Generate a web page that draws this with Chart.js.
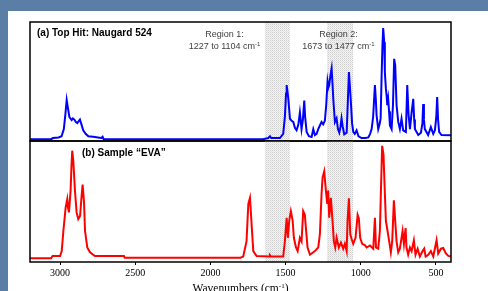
<!DOCTYPE html>
<html>
<head>
<meta charset="utf-8">
<script src="https://cdn.jsdelivr.net/npm/chart.js@4.4.1/dist/chart.umd.min.js"></script>
<style>
  html, body { margin: 0; padding: 0; overflow: hidden; }
  body { width: 488px; height: 291px; background: #5b7ea7; position: relative; }
  #sheet { position: absolute; left: 8px; top: 11px; right: 0; bottom: 0; background: #fff; }
  canvas { position: absolute; left: 0; top: 0; }
</style>
</head>
<body>
<div id="sheet"></div>
<canvas id="topChart" width="488" height="291"></canvas>
<canvas id="bottomChart" width="488" height="291"></canvas>
<script>
// (a) library hit, Naugard 524
const hitWavenumbers = [3200, 3060, 3047, 3010, 2990, 2975, 2965, 2956, 2948, 2938, 2923, 2915, 2905, 2895, 2885, 2875, 2868, 2858, 2846, 2830, 2812, 2780, 2748, 2725, 2717, 2710, 2600,
  1650, 1615, 1604, 1595, 1538, 1516, 1505, 1497, 1493, 1488, 1482, 1471, 1460, 1449, 1438, 1427, 1415, 1405, 1400, 1394, 1385, 1376, 1370, 1360, 1345, 1327, 1316, 1305, 1294, 1283, 1272, 1261, 1250, 1239, 1230, 1221, 1215, 1210, 1202, 1194, 1188, 1183, 1172, 1161, 1152, 1143, 1135, 1128, 1120, 1110, 1094, 1087, 1079, 1072, 1066, 1058, 1050, 1040, 1028, 1015, 995, 970, 950, 938, 928, 918, 906, 900, 895, 884, 875, 868, 862, 856, 851, 844, 840, 833, 828, 824, 818, 812, 806, 795, 786, 778, 771, 762, 751, 740, 729, 718, 700, 691, 682, 673, 662, 651, 645, 640, 618, 600, 590, 585, 580, 574, 552, 534, 518, 507, 498, 492, 486, 479, 463, 400];
const hitAbsorbance = [1.5, 1.5, 2.5, 3, 4, 10, 22, 34.5, 28, 20, 17.6, 19, 18, 16, 15, 17, 18, 14, 9, 6, 4, 3.5, 3, 2.5, 3.5, 1.5, 1.5,
  1.5, 2.5, 4, 2.5, 2.5, 6, 20, 40, 47, 42, 35.5, 18.7, 17, 16, 11, 9, 14, 24, 18, 10, 18, 34, 20, 7.6, 4, 3.4, 10, 5, 6, 10, 13, 16, 14, 17, 30, 50, 45, 47, 55, 61, 48, 35.5, 16, 19, 10, 7, 12, 19, 12, 5.6, 7, 30, 58, 45, 33, 15, 7.6, 6, 9, 4, 2.5, 2.5, 3, 6, 10, 20, 47, 35, 21.6, 10, 14, 19, 52, 80, 95, 83, 58, 44, 38, 30, 35.5, 25, 13, 10, 30, 69, 63.6, 30, 16, 10, 18.7, 9, 7.6, 47, 21.6, 10, 24, 35.5, 18, 10, 5, 7, 15, 31, 18, 10, 5, 11.7, 6, 9, 20, 37, 18, 7.6, 5, 4.8];

// (b) sample "EVA"
const sampleWavenumbers = [3200, 3060, 3050, 3000, 2989, 2978, 2963, 2952, 2947, 2941, 2930, 2924, 2919, 2912, 2901, 2890, 2879, 2867, 2856, 2850, 2841, 2834, 2819, 2801, 2768, 2575, 2570, 1800, 1782, 1760, 1748, 1737, 1726, 1715, 1693, 1610, 1604, 1598, 1516, 1505, 1493, 1485, 1476, 1465, 1453, 1445, 1431, 1420, 1405, 1394, 1383, 1372, 1365, 1354, 1338, 1305, 1283, 1272, 1261, 1254, 1243, 1232, 1223, 1217, 1210, 1199, 1188, 1179, 1170, 1161, 1146, 1132, 1117, 1106, 1094, 1088, 1079, 1070, 1061, 1050, 1035, 1021, 1013, 1004, 991, 973, 961, 939, 917, 906, 899, 884, 873, 866, 858, 849, 842, 833, 822, 811, 800, 791, 780, 771, 762, 751, 740, 729, 722, 713, 702, 696, 685, 673, 662, 647, 636, 622, 607, 589, 578, 569, 551, 534, 518, 496, 485, 467, 452, 434, 418, 400];
const sampleAbsorbance = [3, 3, 5, 5, 9, 25.6, 45, 52, 45, 41, 59, 80, 92, 83.5, 59, 41, 35.5, 38, 56, 64, 50, 25.6, 12, 8, 5, 5, 3.5, 3.5, 4.5, 17, 48, 53, 31, 9, 5, 4.5, 5.5, 4.5, 4.5, 17, 36.6, 20, 34, 42, 34, 20, 12, 9, 20, 17, 42, 39, 28, 12, 6, 9, 12, 23, 56, 70, 75, 59, 48, 59, 36.6, 53, 34, 17, 12, 20, 12, 16, 11, 15, 9, 34, 52.6, 23, 19, 15, 20, 39, 36, 20, 15, 14, 12, 13.7, 11, 36.6, 12, 11, 25.6, 59, 96, 89, 64, 34, 25.6, 17, 8, 17, 51, 34, 17, 8, 11, 20, 25.6, 15, 28, 12, 6, 12, 9, 18, 6, 11, 4.5, 9, 11, 4.5, 6, 9, 4.5, 18, 7, 11, 11.6, 7, 5, 4.5];

// shaded comparison regions as drawn (cm-1)
const regionStarts = [1638, 1225];
const regionEnds = [1471, 1052];
const tickValues = [3000, 2500, 2000, 1500, 1000, 500];

const toPoints = (xs, ys) => xs.map((x, i) => ({ x: x, y: ys[i] }));

const hatch = (() => {
  const c = document.createElement('canvas');
  c.width = 2; c.height = 2;
  const g = c.getContext('2d');
  g.fillStyle = '#f3f3f3'; g.fillRect(0, 0, 2, 2);
  g.fillStyle = '#cfcfcf'; g.fillRect(0, 0, 1, 1);
  g.fillStyle = '#e2e2e2'; g.fillRect(1, 1, 1, 1);
  return c;
})();

const regionsPlugin = {
  id: 'regions',
  beforeDatasetsDraw(chart) {
    const { ctx, chartArea, scales } = chart;
    ctx.save();
    ctx.fillStyle = ctx.createPattern(hatch, 'repeat');
    regionStarts.forEach((s, i) => {
      const a = scales.x.getPixelForValue(s);
      const b = scales.x.getPixelForValue(regionEnds[i]);
      ctx.fillRect(a, chartArea.top, b - a, chartArea.bottom - chartArea.top);
    });
    ctx.restore();
  }
};

const framePlugin = {
  id: 'frame',
  afterDatasetsDraw(chart) {
    const { ctx, chartArea } = chart;
    ctx.save();
    ctx.strokeStyle = '#000';
    ctx.lineWidth = 1.5;
    ctx.strokeRect(chartArea.left, chartArea.top, chartArea.right - chartArea.left, chartArea.bottom - chartArea.top);
    ctx.restore();
  }
};

// text with a raised "-1"
function supText(ctx, base, sup, after, cx, y, size, family, weight) {
  const f1 = weight + ' ' + size + 'px ' + family;
  const f2 = weight + ' ' + Math.round(size * 0.65) + 'px ' + family;
  ctx.font = f1;
  const w1 = ctx.measureText(base).width;
  const w3 = ctx.measureText(after).width;
  ctx.font = f2;
  const w2 = ctx.measureText(sup).width;
  let x = cx - (w1 + w2 + w3) / 2;
  ctx.textAlign = 'left';
  ctx.font = f1; ctx.fillText(base, x, y); x += w1;
  ctx.font = f2; ctx.fillText(sup, x, y - size * 0.38); x += w2;
  ctx.font = f1; ctx.fillText(after, x, y);
}

const topTextPlugin = {
  id: 'topText',
  afterDraw(chart) {
    const { ctx } = chart;
    ctx.save();
    ctx.fillStyle = '#000';
    ctx.textBaseline = 'alphabetic';
    ctx.textAlign = 'left';
    ctx.font = 'bold 10px "Liberation Sans", Arial, sans-serif';
    ctx.fillText('(a) Top Hit: Naugard 524', 37, 36);
    ctx.fillStyle = '#404040';
    ctx.textAlign = 'center';
    ctx.font = '9px "Liberation Sans", Arial, sans-serif';
    ctx.fillText('Region 1:', 224.5, 37);
    ctx.fillText('Region 2:', 338.5, 37);
    supText(ctx, '1227 to 1104 cm', '-1', '', 224.5, 49, 9, '"Liberation Sans", Arial, sans-serif', 'normal');
    supText(ctx, '1673 to 1477 cm', '-1', '', 338.5, 49, 9, '"Liberation Sans", Arial, sans-serif', 'normal');
    ctx.restore();
  }
};

const bottomTextPlugin = {
  id: 'bottomText',
  afterDraw(chart) {
    const { ctx, chartArea } = chart;
    ctx.save();
    ctx.fillStyle = '#000';
    ctx.textBaseline = 'alphabetic';
    ctx.textAlign = 'left';
    ctx.font = 'bold 10px "Liberation Sans", Arial, sans-serif';
    ctx.fillText('(b) Sample \u201CEVA\u201D', 82, 156);
    supText(ctx, 'Wavenumbers (cm', '-1', ')', (chartArea.left + chartArea.right) / 2, 292, 11.5, '"Liberation Serif", "Times New Roman", serif', 'normal');
    ctx.restore();
  }
};

Chart.defaults.animation = false;

new Chart(document.getElementById('topChart'), {
  type: 'line',
  data: {
    datasets: [{
      data: toPoints(hitWavenumbers, hitAbsorbance),
      borderColor: '#0000ff',
      borderWidth: 2,
      pointRadius: 0,
      tension: 0,
      fill: false
    }]
  },
  options: {
    responsive: false,
    devicePixelRatio: 1,
    layout: { padding: { left: 30, top: 22, right: 37, bottom: 150 } },
    plugins: { legend: { display: false }, tooltip: { enabled: false } },
    scales: {
      x: { type: 'linear', reverse: true, min: 400, max: 3200, display: false },
      y: { min: 0, max: 100, display: false }
    }
  },
  plugins: [regionsPlugin, framePlugin, topTextPlugin]
});

new Chart(document.getElementById('bottomChart'), {
  type: 'line',
  data: {
    datasets: [{
      data: toPoints(sampleWavenumbers, sampleAbsorbance),
      borderColor: '#ff0000',
      borderWidth: 2,
      pointRadius: 0,
      tension: 0,
      fill: false
    }]
  },
  options: {
    responsive: false,
    devicePixelRatio: 1,
    layout: { padding: { left: 30, top: 141, right: 37, bottom: 0 } },
    plugins: { legend: { display: false }, tooltip: { enabled: false } },
    scales: {
      x: {
        type: 'linear', reverse: true, min: 400, max: 3200,
        afterBuildTicks: s => { s.ticks = tickValues.map(v => ({ value: v })); },
        afterFit: s => { s.height = 29; },
        grid: { drawOnChartArea: false, drawTicks: true, tickLength: 3, color: '#000', lineWidth: 1 },
        border: { display: false },
        ticks: {
          color: '#000', padding: 2, maxRotation: 0, autoSkip: false,
          font: { family: '"Liberation Serif", "Times New Roman", serif', size: 10 },
          callback: v => String(v)
        }
      },
      y: { min: 0, max: 100, display: false }
    }
  },
  plugins: [regionsPlugin, framePlugin, bottomTextPlugin]
});
</script>
</body>
</html>
